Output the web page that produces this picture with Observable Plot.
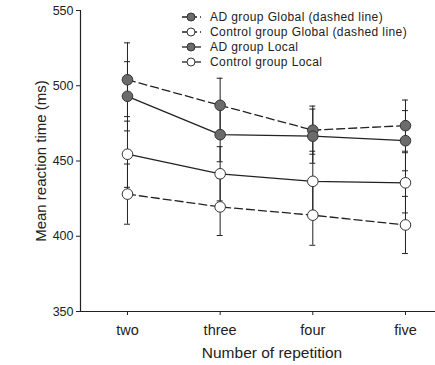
<!DOCTYPE html>
<html>
<head>
<meta charset="utf-8">
<script src="https://cdn.jsdelivr.net/npm/d3@7"></script>
<script src="https://cdn.jsdelivr.net/npm/@observablehq/plot@0.6"></script>
<style>
  html, body { margin: 0; padding: 0; background: #fff; }
  svg { display: block; }
</style>
</head>
<body>
<div id="chart"></div>
<script>
const reps = ["two", "three", "four", "five"];
const seriesNames = [
  "AD group Global (dashed line)",
  "Control group Global (dashed line)",
  "AD group Local",
  "Control group Local"
];
const adGlobal = [504, 487, 470.5, 473.5];
const adGlobalErr = [24.5, 18, 16, 17];
const ctrlGlobal = [428, 419.5, 414, 407.5];
const ctrlGlobalErr = [20, 19, 20, 19];
const adLocal = [493, 467.5, 466.5, 463.5];
const adLocalErr = [23, 18, 18, 20];
const ctrlLocal = [454.5, 441.5, 436.5, 435.5];
const ctrlLocalErr = [22, 18, 20, 20];
const yTicks = [350, 400, 450, 500, 550];

const seriesStyle = [
  {fill: "#6b6b6b", dash: "8,4"},
  {fill: "#ffffff", dash: "8,4"},
  {fill: "#6b6b6b", dash: null},
  {fill: "#ffffff", dash: null}
];
const values = [adGlobal, ctrlGlobal, adLocal, ctrlLocal];
const errs = [adGlobalErr, ctrlGlobalErr, adLocalErr, ctrlLocalErr];

const rows = [];
values.forEach((vals, s) => {
  vals.forEach((v, i) => {
    rows.push({series: seriesNames[s], s, i, rep: reps[i], value: v, lo: v - errs[s][i], hi: v + errs[s][i]});
  });
});

const capW = 0.032;
const ink = "#222";

const marks = [
  Plot.ruleY([350], {stroke: ink, strokeWidth: 1.2}),
  Plot.ruleX([-0.507], {stroke: ink, strokeWidth: 1.2}),
  Plot.axisY({ticks: yTicks, tickSize: 4, tickPadding: 3, label: null, fontSize: 12.5, color: ink}),
  Plot.axisX({ticks: [0, 1, 2, 3], tickFormat: i => reps[i], tickSize: 4, tickPadding: 9, label: null, fontSize: 14.5, color: ink, style: "letter-spacing:0.3px"}),
  Plot.text(["Mean reaction time (ms)"], {frameAnchor: "left", textAnchor: "middle", rotate: -90, dx: -39, fontSize: 15, fill: ink}),
  Plot.text(["Number of repetition"], {frameAnchor: "bottom", textAnchor: "middle", dy: 46, dx: 14, fontSize: 15.5, fill: ink, style: "letter-spacing:0.6px"}),
];

// lines
seriesNames.forEach((name, s) => {
  marks.push(Plot.line(rows.filter(d => d.s === s), {
    x: "i", y: "value", stroke: ink, strokeWidth: 1.3,
    strokeDasharray: seriesStyle[s].dash || undefined
  }));
});
// error bars
marks.push(Plot.ruleX(rows, {x: "i", y1: "lo", y2: "hi", stroke: ink, strokeWidth: 1}));
marks.push(Plot.ruleY(rows, {x1: d => d.i - capW, x2: d => d.i + capW, y: "lo", stroke: ink, strokeWidth: 1}));
marks.push(Plot.ruleY(rows, {x1: d => d.i - capW, x2: d => d.i + capW, y: "hi", stroke: ink, strokeWidth: 1}));
// points
marks.push(Plot.dot(rows, {
  x: "i", y: "value", r: 5.3,
  fill: d => seriesStyle[d.s].fill, stroke: "#333", strokeWidth: 1
}));

const chart = Plot.plot({
  width: 435,
  height: 365,
  marginLeft: 80,
  marginRight: 0,
  marginTop: 10,
  marginBottom: 54,
  style: {fontFamily: "'Liberation Sans', Arial, sans-serif", background: "#fff", color: ink},
  x: {type: "linear", domain: [-0.507, 3.324], axis: null},
  y: {domain: [350, 550], axis: null},
  marks
});

// legend inside the plot area
const svg = d3.select(chart);
const lg = svg.append("g")
  .attr("font-family", "'Liberation Sans', Arial, sans-serif")
  .attr("font-size", 12)
  .attr("letter-spacing", "0.4px")
  .attr("text-anchor", "start");
seriesNames.forEach((name, s) => {
  const y = 17 + s * 15;
  const g = lg.append("g").attr("transform", `translate(0,${y})`);
  g.append("line").attr("x1", 182).attr("x2", 201).attr("y1", 0).attr("y2", 0)
    .attr("stroke", ink).attr("stroke-width", 1.3)
    .attr("stroke-dasharray", seriesStyle[s].dash ? "6,3" : null);
  g.append("circle").attr("cx", 191).attr("cy", 0).attr("r", 4)
    .attr("fill", seriesStyle[s].fill).attr("stroke", "#333");
  g.append("text").attr("x", 210).attr("y", 0).attr("dy", "0.35em")
    .attr("fill", ink).text(name);
});

document.getElementById("chart").appendChild(chart);
</script>
</body>
</html>
